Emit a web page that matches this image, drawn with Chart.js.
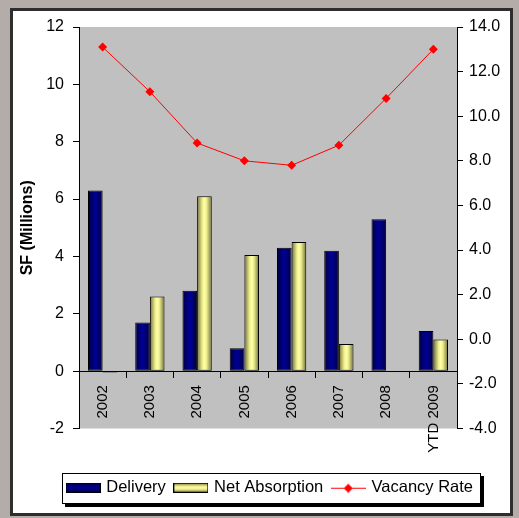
<!DOCTYPE html>
<html>
<head>
<meta charset="utf-8">
<script src="https://cdn.jsdelivr.net/npm/chart.js@4/dist/chart.umd.min.js"></script>
<style>
  html, body { margin: 0; padding: 0; background: #b3aca8; }
  #frame {
    position: absolute; left: 10px; top: 8px; width: 503px; height: 508px;
    box-sizing: border-box; border: 3px solid #2e2e2e; background: #fff;
  }
  #wrap { position: absolute; left: 0; top: 0; width: 519px; height: 518px; }
</style>
</head>
<body>
<div id="frame"></div>
<div id="wrap"><canvas id="chart" width="519" height="518"></canvas></div>
<script>
// Office market history: new supply, net absorption and vacancy
const years = ['2002', '2003', '2004', '2005', '2006', '2007', '2008', 'YTD 2009'];
const delivery = [6.3, 1.7, 2.8, 0.8, 4.3, 4.2, 5.3, 1.4];          // SF millions
const netAbsorption = [-0.05, 2.6, 6.1, 4.05, 4.5, 0.95, null, 1.1]; // SF millions
const vacancyRate = [13.1, 11.1, 8.8, 8.0, 7.8, 8.7, 10.8, 13.0];   // percent
const leftTicks = { min: -2, max: 12, step: 2 };
const rightTicks = { min: -4, max: 14, step: 2 };

const FONT = "'Liberation Sans', Arial, sans-serif";
const CAT_PCT = 0.62;

const navyStops = [[0, '#00003c'], [0.45, '#000090'], [0.55, '#000090'], [1, '#00003c']];
const yellowStops = [[0, '#6e6e3c'], [0.35, '#ecec8c'], [0.5, '#ffffa8'], [0.65, '#ecec8c'], [1, '#6e6e3c']];

// Horizontal shading across each bar, positioned from the category scale
function barFill(c, slot, stops, fallback) {
  if (c.type !== 'data') return fallback;
  const xs = c.chart.scales.x;
  if (!xs || !xs.width) return fallback;
  const cat = xs.width / years.length;
  const w = cat * CAT_PCT / 2;
  const left = xs.getPixelForValue(c.dataIndex) - cat * CAT_PCT / 2 + slot * w;
  const g = c.chart.ctx.createLinearGradient(left, 0, left + w, 0);
  stops.forEach(([o, col]) => g.addColorStop(o, col));
  return g;
}

// Small legend swatches
function swatch(draw) {
  const cv = document.createElement('canvas');
  cv.width = 35; cv.height = 10;
  draw(cv.getContext('2d'));
  return cv;
}
function rectSwatch(stops) {
  return swatch(ctx => {
    const g = ctx.createLinearGradient(0, 0, 0, 10);
    stops.forEach(([o, col]) => g.addColorStop(o, col));
    ctx.fillStyle = g;
    ctx.fillRect(0, 0, 35, 10);
    ctx.strokeStyle = '#000';
    ctx.lineWidth = 1;
    ctx.strokeRect(0.5, 0.5, 34, 9);
  });
}
const legendSwatches = [
  rectSwatch(navyStops),
  rectSwatch(yellowStops),
  swatch(ctx => {
    ctx.strokeStyle = '#ff0000';
    ctx.lineWidth = 1;
    ctx.beginPath(); ctx.moveTo(0, 5.5); ctx.lineTo(35, 5.5); ctx.stroke();
    ctx.fillStyle = '#ff0000';
    ctx.beginPath();
    ctx.moveTo(17.5, 1); ctx.lineTo(22, 5.5); ctx.lineTo(17.5, 10); ctx.lineTo(13, 5.5);
    ctx.closePath(); ctx.fill();
  })
];

// Plot area fill and the framed legend box
const decor = {
  id: 'decor',
  beforeDraw(chart) {
    const { ctx, chartArea: a, legend } = chart;
    ctx.save();
    ctx.fillStyle = '#c0c0c0';
    ctx.fillRect(a.left, a.top, a.right - a.left, a.bottom - a.top);
    if (legend && legend.legendHitBoxes && legend.legendHitBoxes.length) {
      const hb = legend.legendHitBoxes;
      const l = Math.min(...hb.map(h => h.left)) - 6;
      const r = Math.max(...hb.map(h => h.left + h.width)) + 8;
      const cy = hb[0].top + hb[0].height / 2;
      const t = Math.round(cy - 15), b = Math.round(cy + 16);
      ctx.fillStyle = '#000';
      ctx.fillRect(Math.round(l) + 3, t + 3, Math.round(r - l), b - t);
      ctx.fillStyle = '#fff';
      ctx.fillRect(Math.round(l), t, Math.round(r - l), b - t);
      ctx.strokeStyle = '#000';
      ctx.lineWidth = 1;
      ctx.strokeRect(Math.round(l) + 0.5, t + 0.5, Math.round(r - l) - 1, b - t - 1);
    }
    ctx.restore();
  }
};

new Chart(document.getElementById('chart'), {
  type: 'bar',
  data: {
    labels: years,
    datasets: [
      {
        label: 'Delivery', data: delivery, yAxisID: 'y', order: 2,
        backgroundColor: c => barFill(c, 0, navyStops, '#000080'),
        borderColor: '#000', borderWidth: 1, borderSkipped: false,
        categoryPercentage: CAT_PCT, barPercentage: 1
      },
      {
        label: 'Net Absorption', data: netAbsorption, yAxisID: 'y', order: 2,
        backgroundColor: c => barFill(c, 1, yellowStops, '#ffff99'),
        borderColor: '#000', borderWidth: 1, borderSkipped: false,
        categoryPercentage: CAT_PCT, barPercentage: 1
      },
      {
        type: 'line', label: 'Vacancy Rate', data: vacancyRate, yAxisID: 'y1', order: 0,
        borderColor: '#ff0000', backgroundColor: '#ff0000', borderWidth: 1,
        pointStyle: 'rectRot', pointRadius: 4.5, pointBorderWidth: 0, tension: 0
      }
    ]
  },
  options: {
    responsive: false,
    animation: false,
    devicePixelRatio: 1,
    layout: { padding: { left: 24, right: 2, top: 27, bottom: 12 } },
    plugins: {
      tooltip: { enabled: false },
      legend: {
        position: 'bottom',
        title: { display: true, text: ' ', font: { size: 10, lineHeight: 1 }, padding: { top: 0, bottom: 31 } },
        labels: {
          usePointStyle: true, pointStyleWidth: 30, padding: 10, color: '#000',
          font: { family: FONT, size: 16.5 },
          generateLabels: chart => chart.data.datasets.map((ds, i) => ({
            text: ds.label, pointStyle: legendSwatches[i], datasetIndex: i,
            hidden: false, lineWidth: 0, fillStyle: 'transparent', strokeStyle: 'transparent', fontColor: '#000'
          }))
        }
      }
    },
    scales: {
      x: {
        position: { y: 0 },
        offset: true,
        grid: { display: true, drawOnChartArea: false, offset: true, color: '#000', tickLength: 6, tickWidth: 1 },
        border: { display: true, color: '#000', width: 1 },
        ticks: { color: '#000', font: { family: FONT, size: 15 }, minRotation: 90, maxRotation: 90, padding: 8, autoSkip: false }
      },
      y: {
        position: 'left',
        min: leftTicks.min, max: leftTicks.max,
        afterFit: s => { s.width = 55; },
        grid: { drawOnChartArea: false, color: '#000', tickLength: 6 },
        border: { display: true, color: '#000', width: 1 },
        ticks: { stepSize: leftTicks.step, color: '#000', font: { family: FONT, size: 16 }, padding: 9 },
        title: { display: true, text: 'SF (Millions)', color: '#000', font: { family: FONT, size: 16, weight: 'bold' }, padding: { top: -6, bottom: 0 } }
      },
      y1: {
        position: 'right',
        min: rightTicks.min, max: rightTicks.max,
        afterFit: s => { s.width = 60; },
        grid: { drawOnChartArea: false, color: '#000', tickLength: 6 },
        border: { display: true, color: '#000', width: 1 },
        ticks: { stepSize: rightTicks.step, color: '#000', font: { family: FONT, size: 16 }, padding: 6, callback: v => Number(v).toFixed(1) }
      }
    }
  },
  plugins: [decor]
});
</script>
</body>
</html>
